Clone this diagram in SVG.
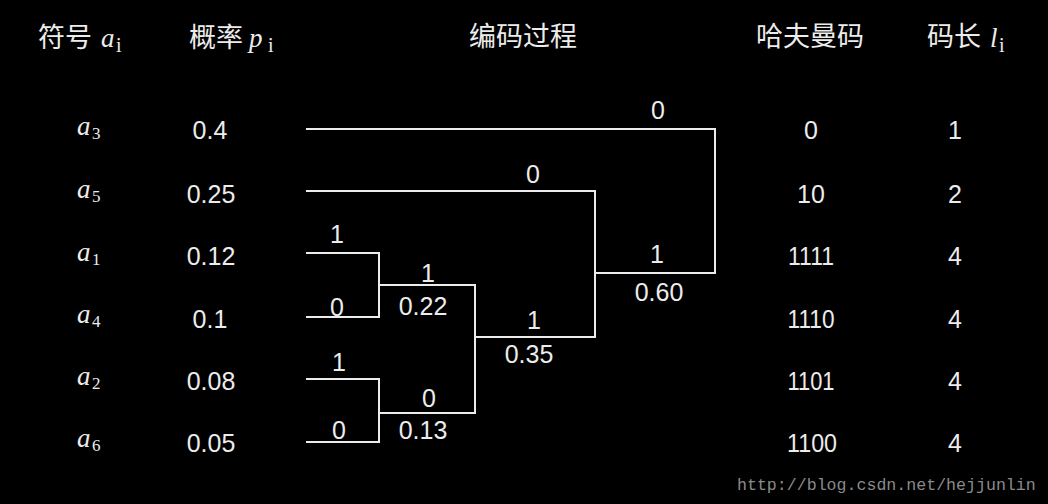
<svg xmlns="http://www.w3.org/2000/svg" width="1048" height="504" viewBox="0 0 1048 504">
<style>
.bg{fill:#000}
.hd{font-family:"Noto Sans CJK SC","Noto Sans",sans-serif;font-size:27px;fill:#ececec}
.it{font-family:"Liberation Serif",serif;font-style:italic;font-size:27px;fill:#ececec}
.sub{font-family:"Liberation Serif",serif;font-size:17px;fill:#ececec}
.subh{font-family:"Liberation Serif",serif;font-size:20px;fill:#ececec}
.num{font-family:"Liberation Sans",Arial,sans-serif;font-size:25px;fill:#ececec;text-anchor:middle}
.wm{font-family:"Liberation Mono",monospace;font-size:16.6px;fill:#8a8a8a}
.ln{stroke:#ececec;stroke-width:2;fill:none}
</style>
<rect class="bg" x="0" y="0" width="1048" height="504"/>
<g id="headers">
<text class="hd" x="38" y="47">符号</text><text class="it" x="101" y="47">a</text><text class="subh" x="116" y="52">i</text>
<text class="hd" x="189" y="47">概率</text><text class="it" x="249" y="47">p</text><text class="subh" x="268" y="52">i</text>
<text class="hd" x="469" y="46">编码过程</text>
<text class="hd" x="756" y="46">哈夫曼码</text>
<text class="hd" x="927" y="46">码长</text><text class="it" x="990" y="47">l</text><text class="subh" x="999" y="52">i</text>
</g>
<g id="symbols">
<g id="sym-a3"><text class="it" x="77" y="135">a</text><text class="sub" x="92" y="139">3</text></g>
<g id="sym-a5"><text class="it" x="77" y="198">a</text><text class="sub" x="92" y="202">5</text></g>
<g id="sym-a1"><text class="it" x="77" y="261">a</text><text class="sub" x="92" y="265">1</text></g>
<g id="sym-a4"><text class="it" x="77" y="323">a</text><text class="sub" x="92" y="327">4</text></g>
<g id="sym-a2"><text class="it" x="77" y="385">a</text><text class="sub" x="92" y="389">2</text></g>
<g id="sym-a6"><text class="it" x="77" y="447">a</text><text class="sub" x="92" y="451">6</text></g>
</g>
<g id="probs">
<text class="num" x="210" y="139">0.4</text>
<text class="num" x="211" y="203">0.25</text>
<text class="num" x="211" y="265">0.12</text>
<text class="num" x="210" y="328">0.1</text>
<text class="num" x="211" y="390">0.08</text>
<text class="num" x="211" y="452">0.05</text>
</g>
<g id="connectors">
<polyline class="ln" points="306,129 715,129 715,273 595,273"/>
<polyline class="ln" points="306,191 595,191 595,337 475,337"/>
<polyline class="ln" points="306,253 379,253 379,317 306,317"/>
<polyline class="ln" points="379,285 475,285 475,413 379,413"/>
<polyline class="ln" points="306,379 379,379 379,442 306,442"/>
</g>
<g id="edge-labels">
<text class="num" x="658" y="119">0</text>
<text class="num" x="533" y="183">0</text>
<text class="num" x="337" y="243">1</text>
<text class="num" x="337" y="316">0</text>
<text class="num" x="428" y="282">1</text>
<text class="num" x="423" y="315">0.22</text>
<text class="num" x="534" y="329">1</text>
<text class="num" x="529" y="363">0.35</text>
<text class="num" x="657" y="263">1</text>
<text class="num" x="659" y="301">0.60</text>
<text class="num" x="339" y="371">1</text>
<text class="num" x="429" y="407">0</text>
<text class="num" x="423" y="439">0.13</text>
<text class="num" x="339" y="439">0</text>
</g>
<g id="codes">
<text class="num" x="811" y="139">0</text>
<text class="num" x="811" y="203">10</text>
<text class="num" x="811" y="265" textLength="46" lengthAdjust="spacingAndGlyphs">1111</text>
<text class="num" x="811" y="328" textLength="47" lengthAdjust="spacingAndGlyphs">1110</text>
<text class="num" x="811" y="390" textLength="47" lengthAdjust="spacingAndGlyphs">1101</text>
<text class="num" x="812" y="452" textLength="50" lengthAdjust="spacingAndGlyphs">1100</text>
</g>
<g id="lengths">
<text class="num" x="955" y="139">1</text>
<text class="num" x="955" y="203">2</text>
<text class="num" x="955" y="265">4</text>
<text class="num" x="955" y="328">4</text>
<text class="num" x="955" y="390">4</text>
<text class="num" x="955" y="452">4</text>
</g>
<text class="wm" x="737" y="490">http://blog.csdn.net/hejjunlin</text>
</svg>
